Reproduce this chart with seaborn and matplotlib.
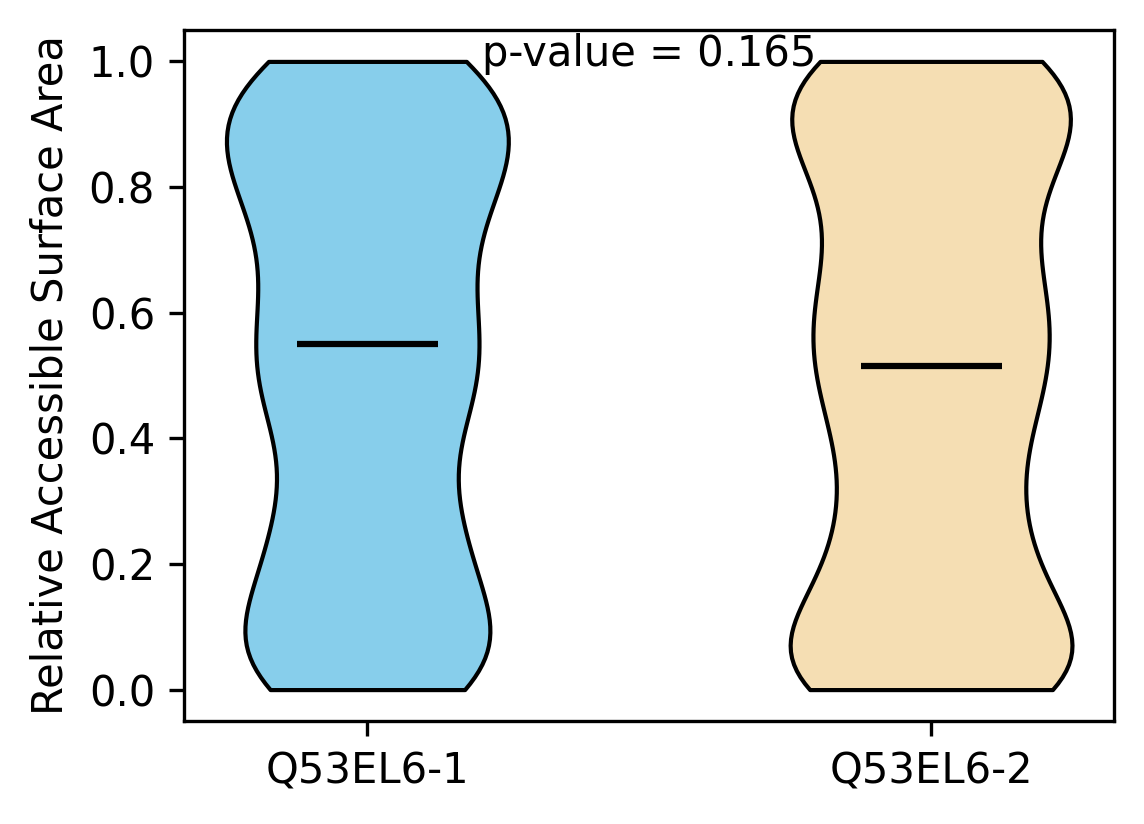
import matplotlib
matplotlib.use('Agg')
import matplotlib.pyplot as plt
import numpy as np
import pandas as pd
import seaborn as sns

# relative ASA values per sequence
csoport_nevek = ['Q53EL6-1', 'Q53EL6-2']
szinek = ['skyblue', 'wheat']
p_ertek = 0.165

ertekek_1 = [0.0, 0.0, 0.01, 0.01, 0.02, 0.03, 0.04, 0.05, 0.06, 0.06,
             0.07, 0.08, 0.09, 0.11, 0.13, 0.15, 0.18,
             0.20, 0.21, 0.22, 0.24, 0.26, 0.27, 0.28,
             0.30, 0.33, 0.37, 0.41, 0.43, 0.44, 0.45, 0.46, 0.47, 0.48,
             0.50, 0.52, 0.55, 0.55, 0.57, 0.58, 0.59, 0.60,
             0.61, 0.65, 0.67, 0.69, 0.70,
             0.72, 0.74, 0.76, 0.77, 0.79, 0.80,
             0.81, 0.82, 0.84, 0.85, 0.86, 0.87, 0.88, 0.89,
             0.90, 0.91, 0.92, 0.94, 0.95, 0.96, 0.97, 0.98, 0.99, 1.0, 1.0, 1.0]

ertekek_2 = [0.0, 0.0, 0.0, 0.0, 0.0, 0.01, 0.01, 0.02, 0.02, 0.03, 0.03, 0.04,
             0.05, 0.06, 0.06, 0.07, 0.08, 0.09,
             0.10, 0.12, 0.14, 0.15, 0.17, 0.19,
             0.21, 0.22, 0.23, 0.25, 0.26, 0.27, 0.29,
             0.32, 0.35, 0.36, 0.38, 0.40,
             0.41, 0.43, 0.44, 0.45, 0.47, 0.49,
             0.50, 0.51, 0.52, 0.53, 0.55, 0.56, 0.57, 0.58, 0.59,
             0.61, 0.62, 0.63, 0.65, 0.65, 0.67, 0.69,
             0.70, 0.72, 0.74, 0.76, 0.78, 0.79,
             0.81, 0.83, 0.84, 0.85, 0.86, 0.87, 0.88, 0.89,
             0.90, 0.91, 0.92, 0.93, 0.94, 0.95, 0.96, 0.97, 0.98, 0.98, 0.99, 0.99,
             1.0, 1.0, 1.0, 1.0]


def main():
    df = pd.DataFrame({
        'csoport': [csoport_nevek[0]] * len(ertekek_1) + [csoport_nevek[1]] * len(ertekek_2),
        'rsa': ertekek_1 + ertekek_2,
    })

    fig, ax = plt.subplots(figsize=(11.44 / 3, 8.24 / 3), dpi=300)
    fig.subplots_adjust(left=0.161, right=0.974, top=0.9636, bottom=0.125)

    sns.violinplot(data=df, x='csoport', y='rsa', hue='csoport', palette=szinek,
                   order=csoport_nevek, hue_order=csoport_nevek, legend=False,
                   cut=0, inner=None, width=0.5, density_norm='width', bw_adjust=0.7,
                   linewidth=1, linecolor='black', saturation=1, ax=ax)

    # median line across the middle half of each violin
    for i, ertekek in enumerate([ertekek_1, ertekek_2]):
        median = np.median(ertekek)
        ax.hlines(median, i - 0.125, i + 0.125, color='black', linewidth=1.5)

    ax.text(0.5, 1.012, f'p-value = {p_ertek}', ha='center', va='center', fontsize=10)

    ax.set_xlim(-0.325, 1.325)
    ax.set_ylim(-0.05, 1.05)
    ax.set_yticks([0.0, 0.2, 0.4, 0.6, 0.8, 1.0])
    ax.set_xlabel('')
    ax.set_ylabel('Relative Accessible Surface Area')

    fig.savefig('out.png', dpi=300)


if __name__ == '__main__':
    main()
